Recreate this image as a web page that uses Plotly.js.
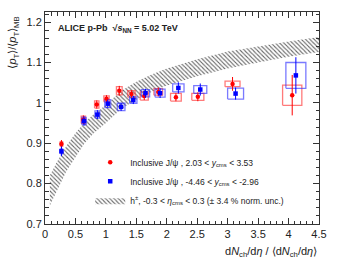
<!DOCTYPE html>
<html><head><meta charset="utf-8">
<script src="https://cdn.plot.ly/plotly-3.0.1.min.js"></script>
<style>html,body{margin:0;padding:0;background:#fff}#c{width:345px;height:261px}</style>
</head><body><div id="c"></div>
<script>
// Charged-hadron band (h±, -0.3<eta<0.3), lower and upper edges
const bandX     = [0.08, 0.2, 0.35, 0.5, 0.65, 0.8, 1.0, 1.25, 1.5, 1.75, 2.0, 2.5, 3.0, 3.5, 4.0, 4.5];
const bandUpper = [0.820, 0.855, 0.893, 0.925, 0.952, 0.972, 0.995, 1.030, 1.052, 1.070, 1.085, 1.108, 1.127, 1.140, 1.152, 1.163];
const bandLower = [0.746, 0.785, 0.830, 0.865, 0.900, 0.925, 0.950, 0.985, 1.008, 1.027, 1.043, 1.066, 1.085, 1.100, 1.114, 1.126];

// Inclusive J/psi, forward 2.03 < y < 3.53 (red)
const fwdX    = [0.27, 0.63, 0.85, 1.01, 1.22, 1.42, 1.63, 1.86, 2.15, 2.51, 3.08, 4.06];
const fwdY    = [0.898, 0.958, 0.996, 1.010, 1.030, 1.022, 1.017, 1.027, 1.014, 1.015, 1.047, 1.019];
const fwdStat = [0.010, 0.011, 0.010, 0.009, 0.012, 0.009, 0.010, 0.011, 0.010, 0.011, 0.017, 0.050];
const fwdSysX = [0.020, 0.036, 0.036, 0.044, 0.047, 0.060, 0.066, 0.071, 0.088, 0.099, 0.123, 0.158];
const fwdSysY = [0.006, 0.009, 0.009, 0.0075, 0.010, 0.008, 0.010, 0.008, 0.0095, 0.0087, 0.007, 0.025];

// Inclusive J/psi, backward -4.46 < y < -2.96 (blue)
const bwdX    = [0.27, 0.64, 0.86, 1.03, 1.25, 1.45, 1.65, 1.89, 2.19, 2.55, 3.13, 4.12];
const bwdY    = [0.880, 0.955, 0.971, 0.998, 0.990, 1.007, 1.024, 1.024, 1.037, 1.033, 1.023, 1.068];
const bwdStat = [0.012, 0.012, 0.011, 0.010, 0.010, 0.010, 0.011, 0.012, 0.014, 0.015, 0.015, 0.045];
const bwdSysX = [0.020, 0.036, 0.040, 0.049, 0.063, 0.060, 0.068, 0.082, 0.093, 0.107, 0.131, 0.164];
const bwdSysY = [0.006, 0.009, 0.009, 0.010, 0.009, 0.008, 0.009, 0.010, 0.010, 0.0095, 0.0136, 0.032];

const xTickVals = [0, 0.5, 1, 1.5, 2, 2.5, 3, 3.5, 4, 4.5];
const xTickText = ['0', '0.5', '1', '1.5', '2', '2.5', '3', '3.5', '4', '4.5'];
const yTickVals = [0.7, 0.8, 0.9, 1.0, 1.1, 1.2];
const yTickText = ['0.7', '0.8', '0.9', '1', '1.1', '1.2'];

const legFwd  = 'Inclusive J/ψ , 2.03 < <i>y</i><sub>cms</sub> < 3.53';
const legBwd  = 'Inclusive J/ψ , -4.46 < <i>y</i><sub>cms</sub> < -2.96';
const legBand = 'h<sup>±</sup>, -0.3 < <i>η</i><sub>cms</sub> < 0.3 (± 3.4 % norm. unc.)';

function rects(xs, ys, dxs, dys) {
  const X = [], Y = [];
  for (let i = 0; i < xs.length; i++) {
    const x = xs[i], y = ys[i], dx = dxs[i], dy = dys[i];
    X.push(x - dx, x + dx, x + dx, x - dx, x - dx, null);
    Y.push(y - dy, y - dy, y + dy, y + dy, y - dy, null);
  }
  return {X, Y};
}
const rF = rects(fwdX, fwdY, fwdSysX, fwdSysY);
const rB = rects(bwdX, bwdY, bwdSysX, bwdSysY);

const RED = '#ff0000', BLUE = '#0000ff';
const data = [
  {x: bandX, y: bandLower, mode: 'lines', line: {width: 0, color: 'rgba(0,0,0,0)'},
   showlegend: false, hoverinfo: 'skip'},
  {x: bandX, y: bandUpper, mode: 'lines', line: {width: 0, color: 'rgba(0,0,0,0)'},
   fill: 'tonexty', fillcolor: '#ffffff',
   fillpattern: {shape: '\\', fgcolor: '#666', bgcolor: '#ffffff', size: 3, solidity: 0.35},
   name: legBand, legendrank: 3},
  {x: rF.X, y: rF.Y, mode: 'lines', line: {color: 'rgba(255,50,50,0.65)', width: 1.3},
   showlegend: false, connectgaps: false},
  {x: rB.X, y: rB.Y, mode: 'lines', line: {color: 'rgba(50,50,255,0.65)', width: 1.3},
   showlegend: false, connectgaps: false},
  {x: fwdX, y: fwdY, mode: 'markers', name: legFwd, legendrank: 1,
   marker: {color: RED, size: 4.5, symbol: 'circle'},
   error_y: {type: 'data', array: fwdStat, color: RED, thickness: 1, width: 0}},
  {x: bwdX, y: bwdY, mode: 'markers', name: legBwd, legendrank: 2,
   marker: {color: BLUE, size: 4.5, symbol: 'square'},
   error_y: {type: 'data', array: bwdStat, color: BLUE, thickness: 1, width: 0}}
];

const FONT = 'Liberation Sans, Arial, sans-serif';
const axisCommon = {
  showgrid: false, zeroline: false, showline: true, linecolor: '#333', linewidth: 1,
  mirror: 'ticks', ticks: 'inside', ticklen: 6, tickwidth: 1, tickcolor: '#333',
  tickfont: {family: FONT, size: 11, color: '#222'}
};
const layout = {
  width: 345, height: 261,
  margin: {l: 45, r: 26, t: 12, b: 37},
  paper_bgcolor: '#fff', plot_bgcolor: '#fff',
  font: {family: FONT, color: '#222'},
  xaxis: Object.assign({}, axisCommon, {
    range: [0, 4.5], tickmode: 'array', tickvals: xTickVals, ticktext: xTickText,
    minor: {dtick: 0.1, tick0: 0, ticks: 'inside', ticklen: 3.5, tickcolor: '#333', tickwidth: 1}
  }),
  yaxis: Object.assign({}, axisCommon, {
    range: [0.7, 1.225], tickmode: 'array', tickvals: yTickVals, ticktext: yTickText,
    minor: {dtick: 0.02, tick0: 0.7, ticks: 'inside', ticklen: 3.5, tickcolor: '#333', tickwidth: 1}
  }),
  showlegend: true,
  legend: {
    x: 0.165, y: 0.36, xanchor: 'left', yanchor: 'top',
    bgcolor: 'rgba(0,0,0,0)', borderwidth: 0,
    font: {family: FONT, size: 8.5, color: '#222'},
    traceorder: 'normal', itemwidth: 30, tracegroupgap: 0
  },
  annotations: [
    {xref: 'paper', yref: 'paper', x: 0.04, y: 0.92, xanchor: 'left', yanchor: 'middle',
     text: '<b>ALICE p-Pb  √<i>s</i><sub>NN</sub> = 5.02 TeV</b>', showarrow: false,
     font: {family: FONT, size: 9, color: '#222'}},
    {xref: 'paper', yref: 'paper', x: 1.0, y: -0.09, xanchor: 'right', yanchor: 'top',
     text: 'd<i>N</i><sub>ch</sub>/d<i>η</i> / ⟨d<i>N</i><sub>ch</sub>/d<i>η</i>⟩', showarrow: false,
     font: {family: FONT, size: 11, color: '#222'}},
    {xref: 'paper', yref: 'paper', x: -0.115, y: 0.99, xanchor: 'center', yanchor: 'top',
     textangle: -90,
     text: '⟨<i>p</i><sub>T</sub>⟩/⟨<i>p</i><sub>T</sub>⟩<sub>MB</sub>', showarrow: false,
     font: {family: FONT, size: 11, color: '#222'}}
  ]
};
Plotly.newPlot('c', data, layout, {displayModeBar: false, staticPlot: true});
</script>
</body></html>
